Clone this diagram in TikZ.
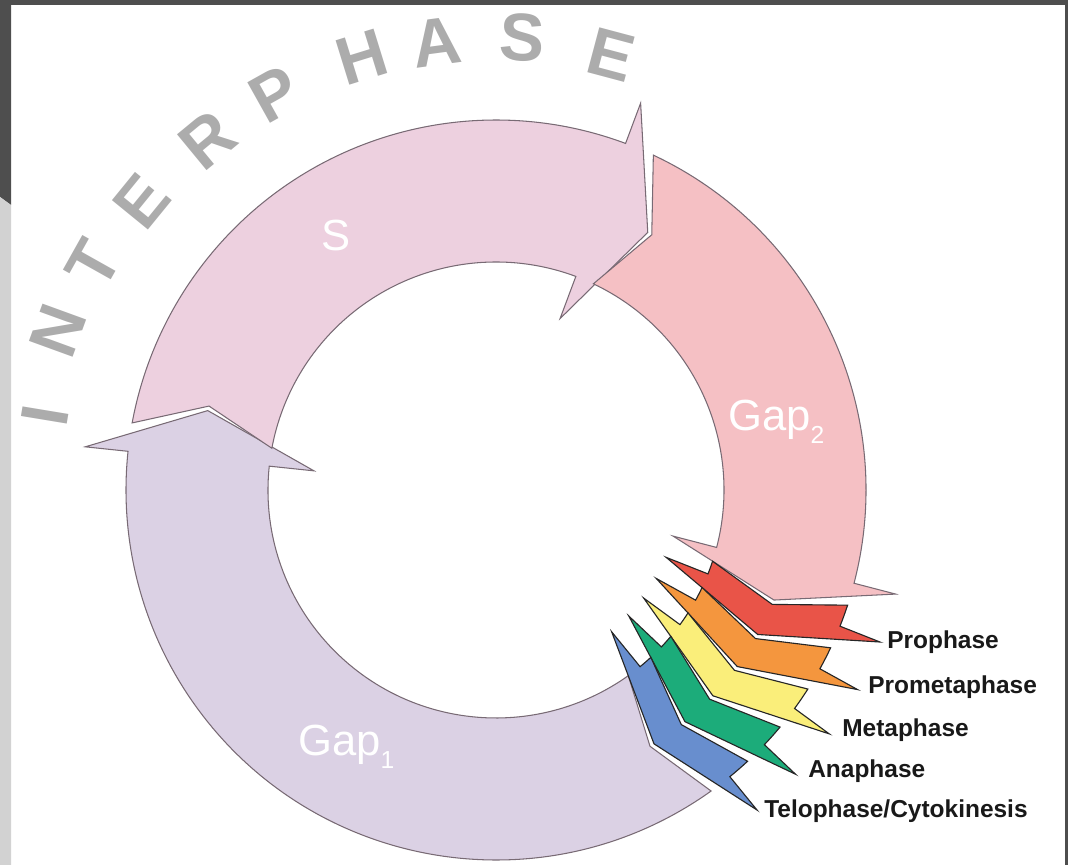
\documentclass[tikz,border=0pt]{standalone}
\usepackage{fontspec}
\setmainfont{Liberation Sans}
\usetikzlibrary{positioning}
\definecolor{cycS}{RGB}{237,208,223}
\definecolor{cycGapUn}{RGB}{219,209,228}
\definecolor{cycGapDeux}{RGB}{245,192,196}
\definecolor{cycPro}{RGB}{233,84,72}
\definecolor{cycProm}{RGB}{244,150,62}
\definecolor{cycMeta}{RGB}{250,238,122}
\definecolor{cycAna}{RGB}{28,172,122}
\definecolor{cycTelo}{RGB}{104,142,206}
\definecolor{cycTrait}{RGB}{120,106,116}
\definecolor{cycGris}{RGB}{172,172,172}
\definecolor{cycCadre}{RGB}{78,78,78}
\definecolor{cycCadreClair}{RGB}{210,210,210}

% rayons de l'anneau (en pixels)
\def\rbin{183}
\def\rin{228}
\def\rmid{299}
\def\rout{370}
\def\rbout{413}
\def\gapang{0.9}
% #1 style, #2/#3 base et longueur de la tete precedente, #4/#5 base et longueur de la tete
\newcommand{\ringarrow}[5]{%
  \pgfmathsetmacro{\tin}{#2-0.388*#3-\gapang}%
  \pgfmathsetmacro{\tap}{#2-#3-\gapang}%
  \pgfmathsetmacro{\tout}{#2-0.377*#3-\gapang}%
  \pgfmathsetmacro{\hap}{#4-#5}%
  \draw[#1] (#4:\rbin) -- (#4:\rin) arc[start angle=#4, end angle=\tin, radius=\rin]
    -- (\tap:\rmid) -- (\tout:\rout) arc[start angle=\tout, end angle=#4, radius=\rout]
    -- (#4:\rbout) -- (\hap:\rmid) -- cycle;
}
\newcommand{\indice}[1]{\raisebox{-9pt}{\fontsize{17.5}{18}\selectfont #1}}

\begin{document}
\begin{tikzpicture}[
  x=0.025cm, y=0.025cm,
  grande/.style={draw=cycTrait, line width=0.75pt, line join=miter},
  phase/.style={draw=black!85, line width=0.8pt, line join=miter},
  lbl/.style={font=\fontsize{17.4}{20}\selectfont\bfseries, text=black!90, anchor=west, inner sep=0pt},
  nom/.style={font=\fontsize{31}{34}\selectfont, text=white, inner sep=0pt},
  lettre/.style={font=\fontsize{48}{50}\selectfont\bfseries, text=cycGris, inner sep=0pt}
]
\useasboundingbox (0,0) rectangle (1068,865);

% cadre
\fill[cycCadre] (0,860) rectangle (1068,865);
\fill[cycCadre] (0,865) -- (11,865) -- (11,660) -- (0,668) -- cycle;
\fill[cycCadreClair] (0,0) -- (11,0) -- (11,660) -- (0,668) -- cycle;
\fill[cycCadre] (1065,0) rectangle (1068,865);

\begin{scope}[shift={(496,375)}]
\ringarrow{grande, fill=cycGapUn}{-50.8}{7.3}{-186}{9.4}
\ringarrow{grande, fill=cycS}{174}{9.4}{69.5}{10}
\ringarrow{grande, fill=cycGapDeux}{69.5}{10}{-14.6}{7}
\ringarrow{phase, fill=cycPro}{-14.6}{7}{-21.6}{7.3}
\ringarrow{phase, fill=cycProm}{-21.6}{7.3}{-28.9}{7.3}
\ringarrow{phase, fill=cycMeta}{-28.9}{7.3}{-36.2}{7.3}
\ringarrow{phase, fill=cycAna}{-36.2}{7.3}{-43.5}{7.3}
\ringarrow{phase, fill=cycTelo}{-43.5}{7.3}{-50.8}{7.3}

\node[lettre, rotate=80.6] (lI)  at (170.6:457) {I};
\node[lettre, rotate=70]   (lN)  at (160:466)   {N};
\node[lettre, rotate=60.7] (lT)  at (150.7:462) {T};
\node[lettre, rotate=50.8] (lE)  at (140.8:457) {E};
\node[lettre, rotate=39.5] (lR)  at (129.5:454) {R};
\node[lettre, rotate=29.2] (lP)  at (119.2:453) {P};
\node[lettre, rotate=17.2] (lH)  at (107.2:453) {H};
\node[lettre, rotate=7.6]  (lA)  at (97.6:452)  {A};
\node[lettre, rotate=-3.3] (lS)  at (86.7:453)  {S};
\node[lettre, rotate=-14.9] (lE2) at (75.1:450) {E};
\end{scope}

\node[nom] (nS) at (336,629) {S};
\node[nom, anchor=base west] (nGapDeux) at (728,434) {Gap\indice{2}};
\node[nom, anchor=base west] (nGapUn) at (298,109) {Gap\indice{1}};

\node[lbl] (pro)  at (887,223) {Prophase};
\node[lbl] (prom) at (868,178) {Prometaphase};
\node[lbl] (meta) at (842,135) {Metaphase};
\node[lbl] (ana)  at (808,94)  {Anaphase};
\node[lbl] (telo) at (764,54)  {Telophase/Cytokinesis};

\end{tikzpicture}
\end{document}
